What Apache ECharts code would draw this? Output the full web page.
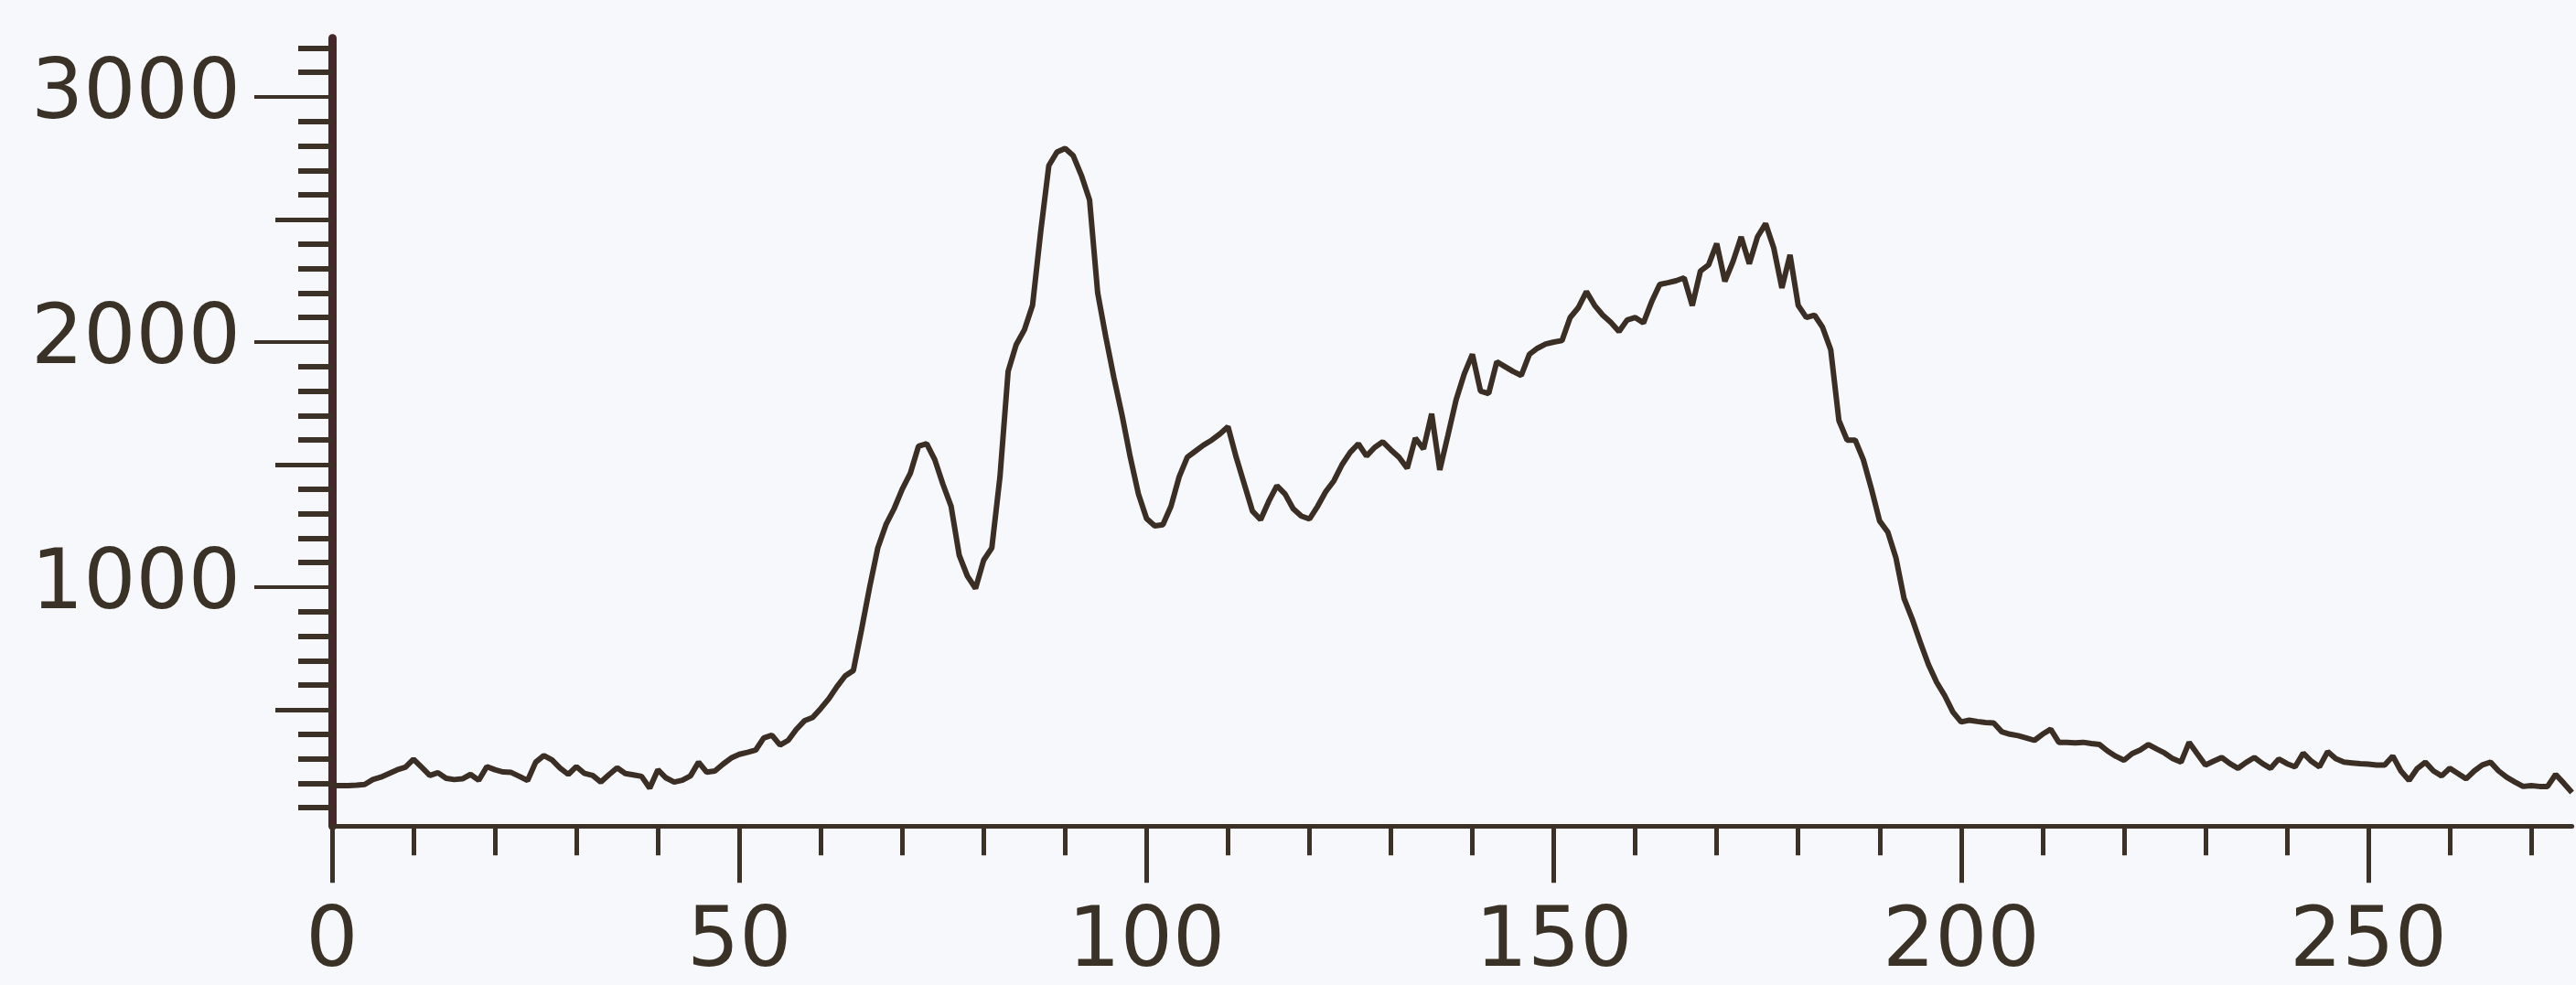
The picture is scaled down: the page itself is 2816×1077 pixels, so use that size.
<!DOCTYPE html>
<html>
<head>
<meta charset="utf-8">
<style>
  html, body { margin: 0; padding: 0; background: #f6f8fb; }
  #chart { width: 2816px; height: 1077px; }
</style>
<script src="https://cdn.jsdelivr.net/npm/echarts@6/dist/echarts.min.js"></script>
</head>
<body>
<div id="chart"></div>
<script>
// Histogram counts, one per bin (bin index 0..275)
const counts = [
  190,190,190,192,195, 215,225,240,255,265, 298,265,232,243,220, 215,218,236,212,268,
  255,246,244,228,211, 286,313,295,262,236, 268,240,232,205,235, 263,240,234,228,180,
  255,222,205,212,230, 286,245,250,278,303, 318,326,335,385,396, 356,375,420,455,468,
  505,545,595,638,660, 826,1000,1160,1255,1320, 1400,1465,1575,1585,1520, 1420,1330,1130,1045,995,
  1110,1160,1450,1880,1990, 2050,2150,2450,2720,2775, 2790,2760,2680,2580,2200, 2020,1853,1700,1530,1380,
  1280,1250,1255,1330,1450, 1530,1555,1580,1600,1625, 1655,1530,1420,1310,1275, 1350,1414,1380,1320,1290,
  1278,1330,1390,1434,1500, 1550,1585,1535,1570,1593, 1560,1530,1485,1608,1564, 1707,1478,1620,1764,1870,
  1950,1800,1790,1920,1900, 1880,1864,1950,1975,1992, 2000,2006,2100,2140,2206, 2150,2110,2080,2043,2090,
  2100,2078,2164,2235,2242, 2250,2262,2149,2290,2315, 2402,2248,2329,2429,2320, 2429,2483,2384,2221,2356,
  2150,2100,2110,2060,1968, 1680,1600,1600,1520,1400, 1270,1225,1120,954,870, 774,684,612,557,490,
  450,457,452,448,446, 410,400,394,385,375, 400,420,367,367,365, 367,362,358,331,310,
  294,321,336,358,340, 323,300,286,367,320, 274,290,305,280,261, 285,305,280,261,299,
  280,267,323,290,267, 329,300,286,283,280, 278,274,274,311,250, 212,260,286,250,230,
  261,240,218,250,275, 286,250,224,205,187, 190,187,187,236,200, 162
];

// Axis ticks and labels
const xMajorTicks = [0, 50, 100, 150, 200, 250];
const xMinorTicks = [10, 20, 30, 40, 60, 70, 80, 90, 110, 120, 130, 140, 160, 170, 180, 190,
                     210, 220, 230, 240, 260, 270];
const yMajorTicks = [1000, 2000, 3000];
const yMidTicks = [500, 1500, 2500];
const yMinorTicks = [100, 200, 300, 400, 600, 700, 800, 900, 1100, 1200, 1300, 1400,
                     1600, 1700, 1800, 1900, 2100, 2200, 2300, 2400, 2600, 2700, 2800, 2900,
                     3100, 3200];

const xMin = 0, xMax = 275;
const yMin = 25, yMax = 3240;

const axisColor = '#3b3126';
const yAxisColor = '#46282a';
const textColor = '#3a3226';
const font = 'DejaVu Sans';

const seriesData = counts.map((v, i) => [i, v]);

function xAxisBase(extra) {
  return Object.assign({
    type: 'value', min: xMin, max: xMax, position: 'bottom', gridIndex: 0,
    splitLine: { show: false }
  }, extra);
}
function yAxisBase(extra) {
  return Object.assign({
    type: 'value', min: yMin, max: yMax, position: 'left', gridIndex: 0,
    splitLine: { show: false }
  }, extra);
}

const chart = echarts.init(document.getElementById('chart'), null, { renderer: 'canvas' });
chart.setOption({
  backgroundColor: '#f6f8fb',
  animation: false,
  grid: { left: 363, top: 41.7, width: 2448.6, height: 861.6, outerBoundsMode: 'none', containLabel: false },
  xAxis: [
    xAxisBase({
      axisLine: { show: true, onZero: false, lineStyle: { color: axisColor, width: 5 } },
      axisTick: { show: true, customValues: xMajorTicks, length: 62, lineStyle: { color: axisColor, width: 5 } },
      axisLabel: { show: true, customValues: xMajorTicks, margin: 84, fontSize: 90, fontFamily: font, color: textColor,
                   formatter: v => String(v) }
    }),
    xAxisBase({
      axisLine: { show: false, onZero: false },
      axisTick: { show: true, customValues: xMinorTicks, length: 32, lineStyle: { color: axisColor, width: 5 } },
      axisLabel: { show: false }
    })
  ],
  yAxis: [
    yAxisBase({
      axisLine: { show: true, onZero: false, lineStyle: { color: yAxisColor, width: 9 } },
      axisTick: { show: true, customValues: yMajorTicks, length: 85, lineStyle: { color: axisColor, width: 4 } },
      axisLabel: { show: true, customValues: yMajorTicks, margin: 100, fontSize: 90, fontFamily: font, color: textColor,
                   formatter: v => String(v) }
    }),
    yAxisBase({
      axisLine: { show: false, onZero: false },
      axisTick: { show: true, customValues: yMidTicks, length: 62, lineStyle: { color: axisColor, width: 5 } },
      axisLabel: { show: false }
    }),
    yAxisBase({
      axisLine: { show: false, onZero: false },
      axisTick: { show: true, customValues: yMinorTicks, length: 37, lineStyle: { color: axisColor, width: 6 } },
      axisLabel: { show: false }
    })
  ],
  series: [{
    type: 'line',
    xAxisIndex: 0,
    yAxisIndex: 0,
    data: seriesData,
    showSymbol: false,
    symbol: 'none',
    lineStyle: { color: '#3a2e25', width: 6 },
    silent: true
  }]
});
</script>
</body>
</html>
